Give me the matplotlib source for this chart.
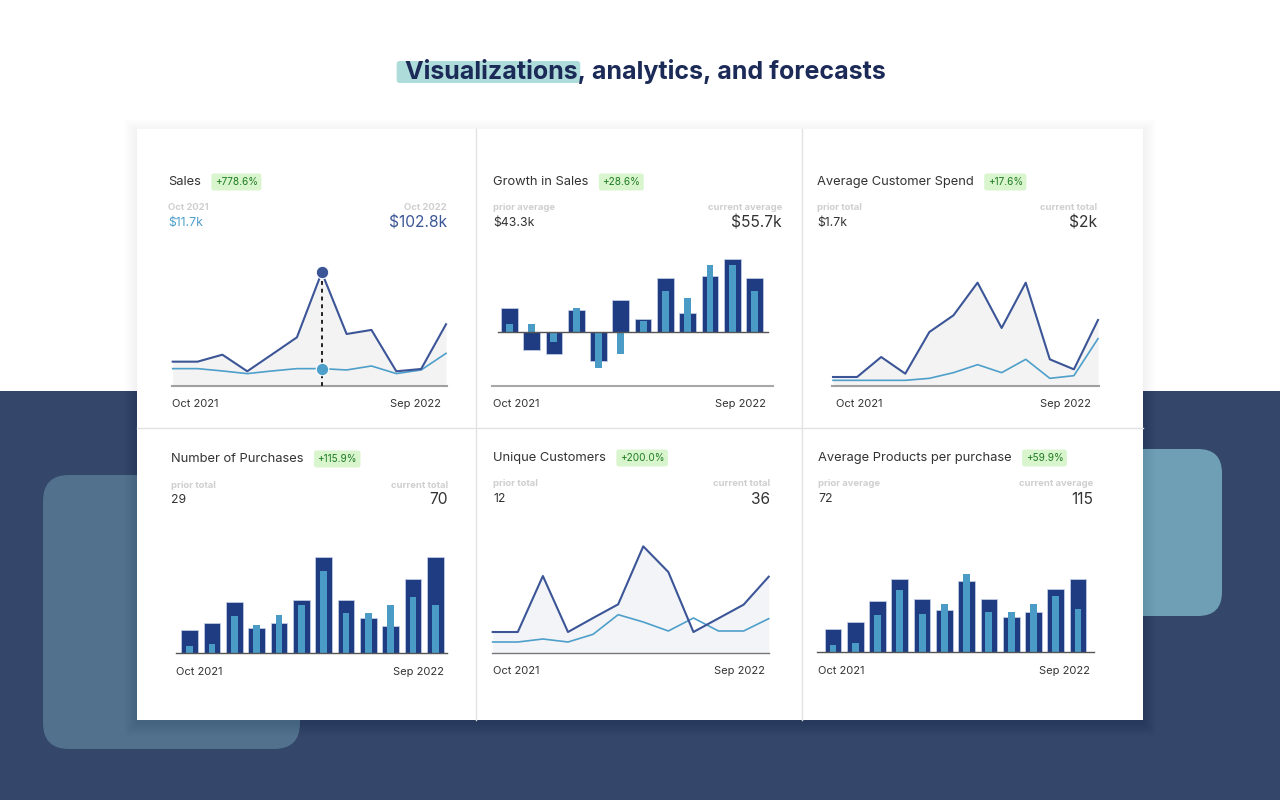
import numpy as np
import matplotlib.pyplot as plt
from matplotlib.patches import Rectangle, FancyBboxPatch

W, H = 1280, 800
FONT = 'Inter'

months = ['Oct 2021', 'Nov 2021', 'Dec 2021', 'Jan 2022', 'Feb 2022', 'Mar 2022',
          'Apr 2022', 'May 2022', 'Jun 2022', 'Jul 2022', 'Aug 2022', 'Sep 2022']

# values (current period / prior period)
sales_cur = [22.0, 22.0, 28.3, 13.3, 28.6, 44.0, 102.8, 47.0, 50.7, 13.3, 15.4, 55.8]
sales_prior = [15.7, 15.7, 13.6, 11.2, 13.6, 15.7, 15.7, 14.5, 18.1, 11.2, 14.5, 29.5]
growth_cur = [70, -55, -68, 64, -87, 94, 38, 162, 57, 168, 217, 162]
growth_prior = [23, 23, -31, 70, -108, -68, 32, 121, 101, 201, 201, 121]
spend_cur = [27, 27, 87, 37, 162, 212, 310, 174, 310, 80, 50, 198]
spend_prior = [17, 17, 17, 17, 23, 40, 64, 40, 80, 23, 31, 142]
purchases_cur = [69, 92, 154, 76, 92, 161, 290, 161, 107, 81, 223, 290]
purchases_prior = [22, 29, 112, 85, 114, 146, 248, 121, 121, 146, 170, 146]
customers_cur = [63, 63, 231, 63, 105, 146, 320, 243, 63, 104, 145, 229]
customers_prior = [33, 33, 42, 33, 56, 115, 93, 66, 105, 66, 66, 103]
products_cur = [69, 91, 153, 220, 160, 126, 214, 160, 106, 120, 189, 220]
products_prior = [22, 29, 112, 186, 114, 145, 234, 121, 120, 145, 170, 131]

headline_mark = 'Visualizations'
headline_rest = ', analytics, and forecasts'
titles = ['Sales', 'Growth in Sales', 'Average Customer Spend',
          'Number of Purchases', 'Unique Customers', 'Average Products per purchase']
badges = ['+778.6%', '+28.6%', '+17.6%', '+115.9%', '+200.0%', '+59.9%']
left_labels = ['Oct 2021', 'prior average', 'prior total', 'prior total', 'prior total', 'prior average']
left_values = ['$11.7k', '$43.3k', '$1.7k', '29', '12', '72']
right_labels = ['Oct 2022', 'current average', 'current total', 'current total', 'current total', 'current average']
right_values = ['$102.8k', '$55.7k', '$2k', '70', '36', '115']

DARK_LINE = '#3B5597'
LIGHT_LINE = '#4E9FCA'
DARK_BAR = '#1F3B82'
LIGHT_BAR = '#4A9BC6'
TXT = '#333333'

plt.rcParams['font.family'] = [FONT, 'DejaVu Sans']

fig = plt.figure(figsize=(W / 100, H / 100), dpi=100)
bg = fig.add_axes([0, 0, 1, 1])
bg.set_xlim(0, W)
bg.set_ylim(H, 0)
bg.axis('off')
renderer = fig.canvas.get_renderer()

# background
bg.add_patch(Rectangle((0, 0), W, 391, fc='white', lw=0))
bg.add_patch(Rectangle((0, 391), W, H - 391, fc='#34476A', lw=0))
bg.add_patch(FancyBboxPatch((43, 475), 257, 274, boxstyle='round,pad=0,rounding_size=26',
                            fc='#52718C', lw=0))
bg.add_patch(FancyBboxPatch((1060, 449), 162, 167, boxstyle='round,pad=0,rounding_size=24',
                            fc='#6E9FB4', lw=0))

# card with a soft shadow
for i in range(1, 14):
    bg.add_patch(Rectangle((137 - i, 129 - i + 3), 1006 + 2 * i, 591 + 2 * i,
                           fc='black', alpha=0.004, lw=0))
bg.add_patch(Rectangle((137, 129), 1006, 591, fc='white', lw=0))
bg.plot([476, 476], [129, 720], color='#E2E2E2', lw=1)
bg.plot([802, 802], [129, 720], color='#E2E2E2', lw=1)
bg.plot([137, 1143], [428, 428], color='#E2E2E2', lw=1)

# headline with the highlighted first word
hl_kw = dict(va='center', fontsize=18, fontweight='bold', color='#1C2A58')
full = bg.text(645, 71, headline_mark + headline_rest, ha='center', zorder=3, **hl_kw)
fe = full.get_window_extent(renderer)
probe = bg.text(0, 71, headline_mark, ha='left', **hl_kw)
mark_w = probe.get_window_extent(renderer).width
probe.remove()
bg.add_patch(FancyBboxPatch((fe.x0 - 8, 61), mark_w + 11, 22,
                            boxstyle='round,pad=0,rounding_size=3',
                            fc='#AEDCDB', lw=0, zorder=2))

# panel text layout: left x, right x, title y, tick left x, tick right x, tick y
layout = [
    (168, 447, 182, 172, 441, 404),
    (493, 782, 182, 493, 766, 404),
    (817, 1097, 182, 836, 1091, 404),
    (171, 448, 459, 176, 444, 672),
    (493, 770, 458, 493, 765, 671),
    (818, 1093, 458, 818, 1090, 671),
]

for k, (xl, xr, ty, tkl, tkr, tky) in enumerate(layout):
    t = bg.text(xl, ty, titles[k], ha='left', va='center', fontsize=9.3, color=TXT)
    ext = t.get_window_extent(renderer)
    bg.text(ext.x1 + 14, ty, badges[k], ha='left', va='center', fontsize=7.2,
            color='#1E7B21',
            bbox=dict(boxstyle='round,pad=0.35,rounding_size=0.25', fc='#D8F5CD', ec='none'))
    bg.text(xl, ty + 26, left_labels[k], ha='left', va='center', fontsize=6.8,
            fontweight='bold', color='#CFCFCF')
    bg.text(xr, ty + 26, right_labels[k], ha='right', va='center', fontsize=6.8,
            fontweight='bold', color='#CFCFCF')
    lc = LIGHT_LINE if k == 0 else TXT
    rc = DARK_LINE if k == 0 else TXT
    bg.text(xl, ty + 41, left_values[k], ha='left', va='center', fontsize=8.8, color=lc)
    bg.text(xr, ty + 41, right_values[k], ha='right', va='center', fontsize=11.2, color=rc)
    bg.text(tkl, tky, months[0], ha='left', va='center', fontsize=8, color=TXT)
    bg.text(tkr, tky, months[-1], ha='right', va='center', fontsize=8, color=TXT)


def px_axes(x0, x1, y_top, y_zero, y_bottom, scale, xlim):
    ax = fig.add_axes([x0 / W, 1 - y_bottom / H, (x1 - x0) / W, (y_bottom - y_top) / H])
    ax.axis('off')
    ax.set_xlim(*xlim)
    ax.set_ylim(-(y_bottom - y_zero) * scale, (y_zero - y_top) * scale)
    return ax


x = np.arange(len(months))


def line_panel(ax, cur, prior, fill, base_color, base_lw):
    ax.fill_between(x, cur, 0, color=fill, lw=0)
    ax.plot([-0.03, 11.03], [0, 0], color=base_color, lw=base_lw, clip_on=False)
    ax.plot(x, prior, color=LIGHT_LINE, lw=1.2, clip_on=False)
    ax.plot(x, cur, color=DARK_LINE, lw=1.5, clip_on=False)


def bar_panel(ax, cur, prior):
    ax.bar(x, cur, width=0.75, color=DARK_BAR, ec='#C9D4EA', lw=0.5)
    ax.bar(x, prior, width=0.31, color=LIGHT_BAR, lw=0)


# Sales
ax1 = px_axes(172.7, 446, 250, 386, 386, 0.904, (0, 11))
line_panel(ax1, sales_cur, sales_prior, '#F3F3F3', '#A0A0A0', 1.5)
ax1.plot([6, 6], [0, sales_cur[6]], color='#222222', lw=1.4, ls=(0, (2, 2)), clip_on=False)
ax1.plot(6, sales_cur[6], 'o', ms=9, color=DARK_LINE, mec='white', mew=0.8, clip_on=False)
ax1.plot(6, sales_prior[6], 'o', ms=9, color=LIGHT_LINE, mec='white', mew=0.8, clip_on=False)

# Growth in Sales
sp = 22.3
ax2 = px_axes(492, 772.7, 240, 331.7, 386, 3, ((492 - 509.3) / sp, (772.7 - 509.3) / sp))
bar_panel(ax2, growth_cur, growth_prior)
ax2.plot([(497.7 - 509.3) / sp, (768 - 509.3) / sp], [0, 0], color='#555555', lw=1)
ax2.axhline(-(386 - 331.7) * 3, color='#A8A8A8', lw=1.5, clip_on=False)

# Average Customer Spend
ax3 = px_axes(833, 1098, 250, 386, 386, 3, (0, 11))
line_panel(ax3, spend_cur, spend_prior, '#F3F3F3', '#A0A0A0', 1.5)

# Number of Purchases
sp = 22.33
ax4 = px_axes(176, 447, 520, 653.3, 653.3, 3, ((176 - 189.7) / sp, (447 - 189.7) / sp))
bar_panel(ax4, purchases_cur, purchases_prior)
ax4.axhline(0, color='#555555', lw=1, clip_on=False)

# Unique Customers
ax5 = px_axes(492.7, 768.7, 520, 653, 653, 3, (0, 11))
line_panel(ax5, customers_cur, customers_prior, '#F2F4F8', '#777777', 1.0)

# Average Products per purchase
sp = 22.27
ax6 = px_axes(817, 1094, 520, 652.3, 652.3, 3, ((817 - 833) / sp, (1094 - 833) / sp))
bar_panel(ax6, products_cur, products_prior)
ax6.axhline(0, color='#555555', lw=1, clip_on=False)

fig.savefig('out.png', dpi=100)
